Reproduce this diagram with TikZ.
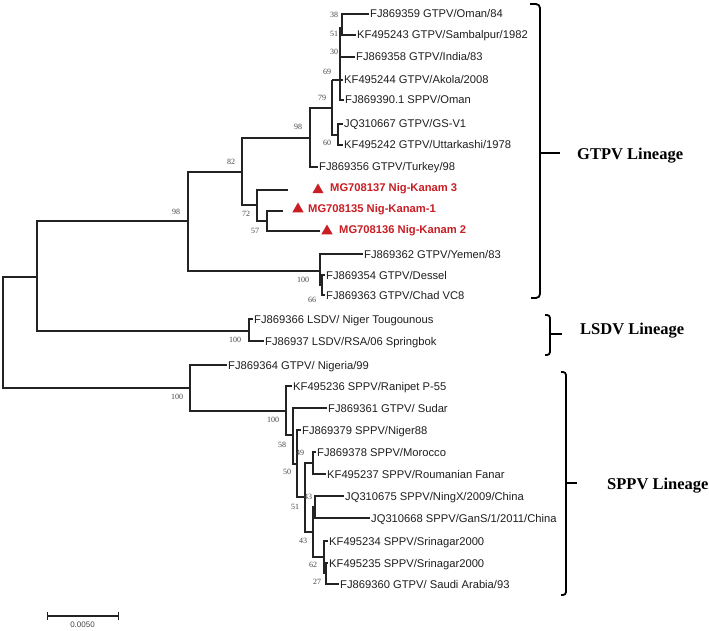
\documentclass[tikz,border=0pt]{standalone}
\usepackage{fontspec}
\setmainfont{Liberation Sans}
\newfontfamily\serifb{Liberation Serif}
\usetikzlibrary{shapes.geometric}
\definecolor{kred}{RGB}{200,30,36}
\definecolor{tline}{RGB}{35,35,35}
\definecolor{bsgrey}{RGB}{70,70,70}
\begin{document}
\begin{tikzpicture}[x=1pt,y=-1pt,
 edge/.style={draw=tline, line width=1.1pt},
 leaf/.style={anchor=west, inner xsep=1.5pt, inner ysep=0pt, text height=8pt, text depth=0pt, font=\fontsize{11.2}{13}\selectfont, text=black!88},
 rleaf/.style={leaf, text=kred, font=\fontsize{11.2}{13}\selectfont\bfseries},
 bs/.style={font=\serifb\fontsize{8}{9}\selectfont, text=bsgrey, inner sep=0pt},
 tri/.style={regular polygon, regular polygon sides=3, fill=kred, minimum size=13pt, inner sep=0pt},
 brace/.style={draw=black, line width=1.8pt},
 lineage/.style={anchor=west, font=\serifb\fontsize{16.5}{18}\selectfont\bfseries, text height=11pt, text depth=0pt, inner sep=0pt}]
\useasboundingbox (0,0) rectangle (709,631);
\fill[white] (0,0) rectangle (709,631);
% internal nodes
\coordinate (R) at (3,332.5);
\coordinate (A) at (37,277);
\coordinate (N98) at (188,221);
\coordinate (N82) at (242,172);
\coordinate (N98i) at (310,138);
\coordinate (N79) at (332,108);
\coordinate (N69) at (332,80);
\coordinate (Nsub) at (340,80);
\coordinate (N38) at (342,28);
\coordinate (N60) at (338,135);
\coordinate (N72) at (257,205);
\coordinate (N57) at (267,221);
\coordinate (N100g) at (320,271);
\coordinate (N66) at (322,285);
\coordinate (NL) at (249,331);
\coordinate (NS) at (190,388);
\coordinate (NS2) at (286,411);
\coordinate (N58) at (293,435);
\coordinate (N50) at (297,464);
\coordinate (N51) at (305,497);
\coordinate (N49) at (313,463);
\coordinate (N43L) at (313,532);
\coordinate (N43U) at (315,507);
\coordinate (N62) at (324,557);
\coordinate (N27) at (326,573);
% leaves
\node[leaf] (l1) at (368.5,14) {FJ869359 GTPV/Oman/84};
\node[leaf] (l2) at (355.5,35) {KF495243 GTPV/Sambalpur/1982};
\node[leaf] (l3) at (354.5,57) {FJ869358 GTPV/India/83};
\node[leaf] (l4) at (342.5,80) {KF495244 GTPV/Akola/2008};
\node[leaf] (l5) at (343.5,100) {FJ869390.1 SPPV/Oman};
\node[leaf] (l6) at (342.5,124) {JQ310667 GTPV/GS-V1};
\node[leaf] (l7) at (342.5,145) {KF495242 GTPV/Uttarkashi/1978};
\node[leaf] (l8) at (317.5,167) {FJ869356 GTPV/Turkey/98};
\coordinate (e1) at (288,190);
\coordinate (e2) at (283,211);
\coordinate (e3) at (320,231);
\node[tri] (t1) at (318,190) {};
\node[tri] (t2) at (298,209) {};
\node[tri] (t3) at (327,231) {};
\node[rleaf] (r1) at (328.5,188) {MG708137 Nig-Kanam 3};
\node[rleaf] (r2) at (306.5,208) {MG708135 Nig-Kanam-1};
\node[rleaf] (r3) at (337.5,229.5) {MG708136 Nig-Kanam 2};
\node[leaf] (l12) at (362.5,254) {FJ869362 GTPV/Yemen/83};
\node[leaf] (l13) at (324.5,275) {FJ869354 GTPV/Dessel};
\node[leaf] (l14) at (324.5,295) {FJ869363 GTPV/Chad VC8};
\node[leaf] (l15) at (252.5,319) {FJ869366 LSDV/ Niger Tougounous};
\node[leaf] (l16) at (263.5,341) {FJ86937 LSDV/RSA/06 Springbok};
\node[leaf] (l17) at (226.5,365) {FJ869364 GTPV/ Nigeria/99};
\node[leaf] (l18) at (291.5,386) {KF495236 SPPV/Ranipet P-55};
\node[leaf] (l19) at (326.5,408) {FJ869361 GTPV/ Sudar};
\node[leaf] (l20) at (300.5,430) {FJ869379 SPPV/Niger88};
\node[leaf] (l21) at (315.5,452) {FJ869378 SPPV/Morocco};
\node[leaf] (l22) at (325.5,474) {KF495237 SPPV/Roumanian Fanar};
\node[leaf] (l23) at (343.5,496) {JQ310675 SPPV/NingX/2009/China};
\node[leaf] (l24) at (369.5,518) {JQ310668 SPPV/GanS/1/2011/China};
\node[leaf] (l25) at (327.5,541) {KF495234 SPPV/Srinagar2000};
\node[leaf] (l26) at (327.5,563) {KF495235 SPPV/Srinagar2000};
\node[leaf] (l27) at (338.5,584) {FJ869360 GTPV/ Saudi Arabia/93};
% edges
\draw[edge] (R) |- (A);
\draw[edge] (R) |- (NS);
\draw[edge] (A) |- (N98);
\draw[edge] (A) |- (NL);
\draw[edge] (N98) |- (N82);
\draw[edge] (N98) |- (N100g);
\draw[edge] (N82) |- (N98i);
\draw[edge] (N82) |- (N72);
\draw[edge] (N98i) |- (N79);
\draw[edge] (N98i) |- (l8.west);
\draw[edge] (N79) |- (N69);
\draw[edge] (N79) |- (N60);
\draw[edge] (N69) -- (l4.west);
\draw[edge] (Nsub) |- (N38);
\draw[edge] (Nsub) |- (l3.west);
\draw[edge] (Nsub) |- (l5.west);
\draw[edge] (N38) |- (l1.west);
\draw[edge] (N38) |- (l2.west);
\draw[edge] (N60) |- (l6.west);
\draw[edge] (N60) |- (l7.west);
\draw[edge] (N72) |- (e1);
\draw[edge] (N72) |- (N57);
\draw[edge] (N57) |- (e2);
\draw[edge] (N57) |- (e3);
\draw[edge] (N100g) |- (l12.west);
\draw[edge] (N100g) |- (N66);
\draw[edge] (N66) |- (l13.west);
\draw[edge] (N66) |- (l14.west);
\draw[edge] (NL) |- (l15.west);
\draw[edge] (NL) |- (l16.west);
\draw[edge] (NS) |- (l17.west);
\draw[edge] (NS) |- (NS2);
\draw[edge] (NS2) |- (l18.west);
\draw[edge] (NS2) |- (N58);
\draw[edge] (N58) |- (l19.west);
\draw[edge] (N58) |- (N50);
\draw[edge] (N50) |- (l20.west);
\draw[edge] (N50) |- (N51);
\draw[edge] (N51) |- (N49);
\draw[edge] (N51) |- (N43L);
\draw[edge] (N49) |- (l21.west);
\draw[edge] (N49) |- (l22.west);
\draw[edge] (N43L) |- (N43U);
\draw[edge] (N43L) |- (N62);
\draw[edge] (N43U) |- (l23.west);
\draw[edge] (N43U) |- (l24.west);
\draw[edge] (N62) |- (l25.west);
\draw[edge] (N62) |- (N27);
\draw[edge] (N27) |- (l26.west);
\draw[edge] (N27) |- (l27.west);
% bootstrap values
\node[bs] (b1) at (334,15) {38};
\node[bs] (b2) at (334,34) {51};
\node[bs] (b3) at (334,52) {30};
\node[bs] (b4) at (327,72) {69};
\node[bs] (b5) at (322,98) {79};
\node[bs] (b6) at (298,127) {98};
\node[bs] (b7) at (327,143) {60};
\node[bs] (b8) at (231,162) {82};
\node[bs] (b9) at (176,212) {98};
\node[bs] (b10) at (246,214) {72};
\node[bs] (b11) at (255,231) {57};
\node[bs] (b12) at (303,280) {100};
\node[bs] (b13) at (312,300) {66};
\node[bs] (b14) at (235,340) {100};
\node[bs] (b15) at (177,397) {100};
\node[bs] (b16) at (273,420) {100};
\node[bs] (b17) at (282,445) {58};
\node[bs] (b18) at (300,453) {49};
\node[bs] (b19) at (287,472) {50};
\node[bs] (b20) at (308,497) {43};
\node[bs] (b21) at (295,507) {51};
\node[bs] (b22) at (303,541) {43};
\node[bs] (b23) at (313,565) {62};
\node[bs] (b24) at (317,582) {27};
% lineage brackets
\draw[brace] (530,4) -- (536,4) to[out=0,in=90] (540,8) -- (540,294) to[out=-90,in=0] (536,298) -- (531,298);
\draw[brace] (540,153) -- (560,153);
\node[lineage] (gl) at (577,154) {GTPV Lineage};
\draw[brace] (545,315) -- (547,315) to[out=0,in=90] (550,318) -- (550,352) to[out=-90,in=0] (547,355) -- (545,355);
\draw[brace] (550,334) -- (562,334);
\node[lineage] (ll) at (580,329) {LSDV Lineage};
\draw[brace] (561,372) -- (563,372) to[out=0,in=90] (566,375) -- (566,592) to[out=-90,in=0] (563,595) -- (561,595);
\draw[brace] (566,483) -- (577,483);
\node[lineage] (sl) at (607,484) {SPPV Lineage};
% scale bar
\coordinate (s1) at (47,616);
\coordinate (s2) at (118,616);
\draw[tline, line width=1.1pt] (s1) -- (s2);
\draw[tline, line width=1pt] ([yshift=-4pt]s1) -- ([yshift=4pt]s1);
\draw[tline, line width=1pt] ([yshift=-4pt]s2) -- ([yshift=4pt]s2);
\node[font=\fontsize{8}{9}\selectfont, text=bsgrey, inner sep=0pt] (sv) at (82.5,625) {0.0050};
\end{tikzpicture}
\end{document}
